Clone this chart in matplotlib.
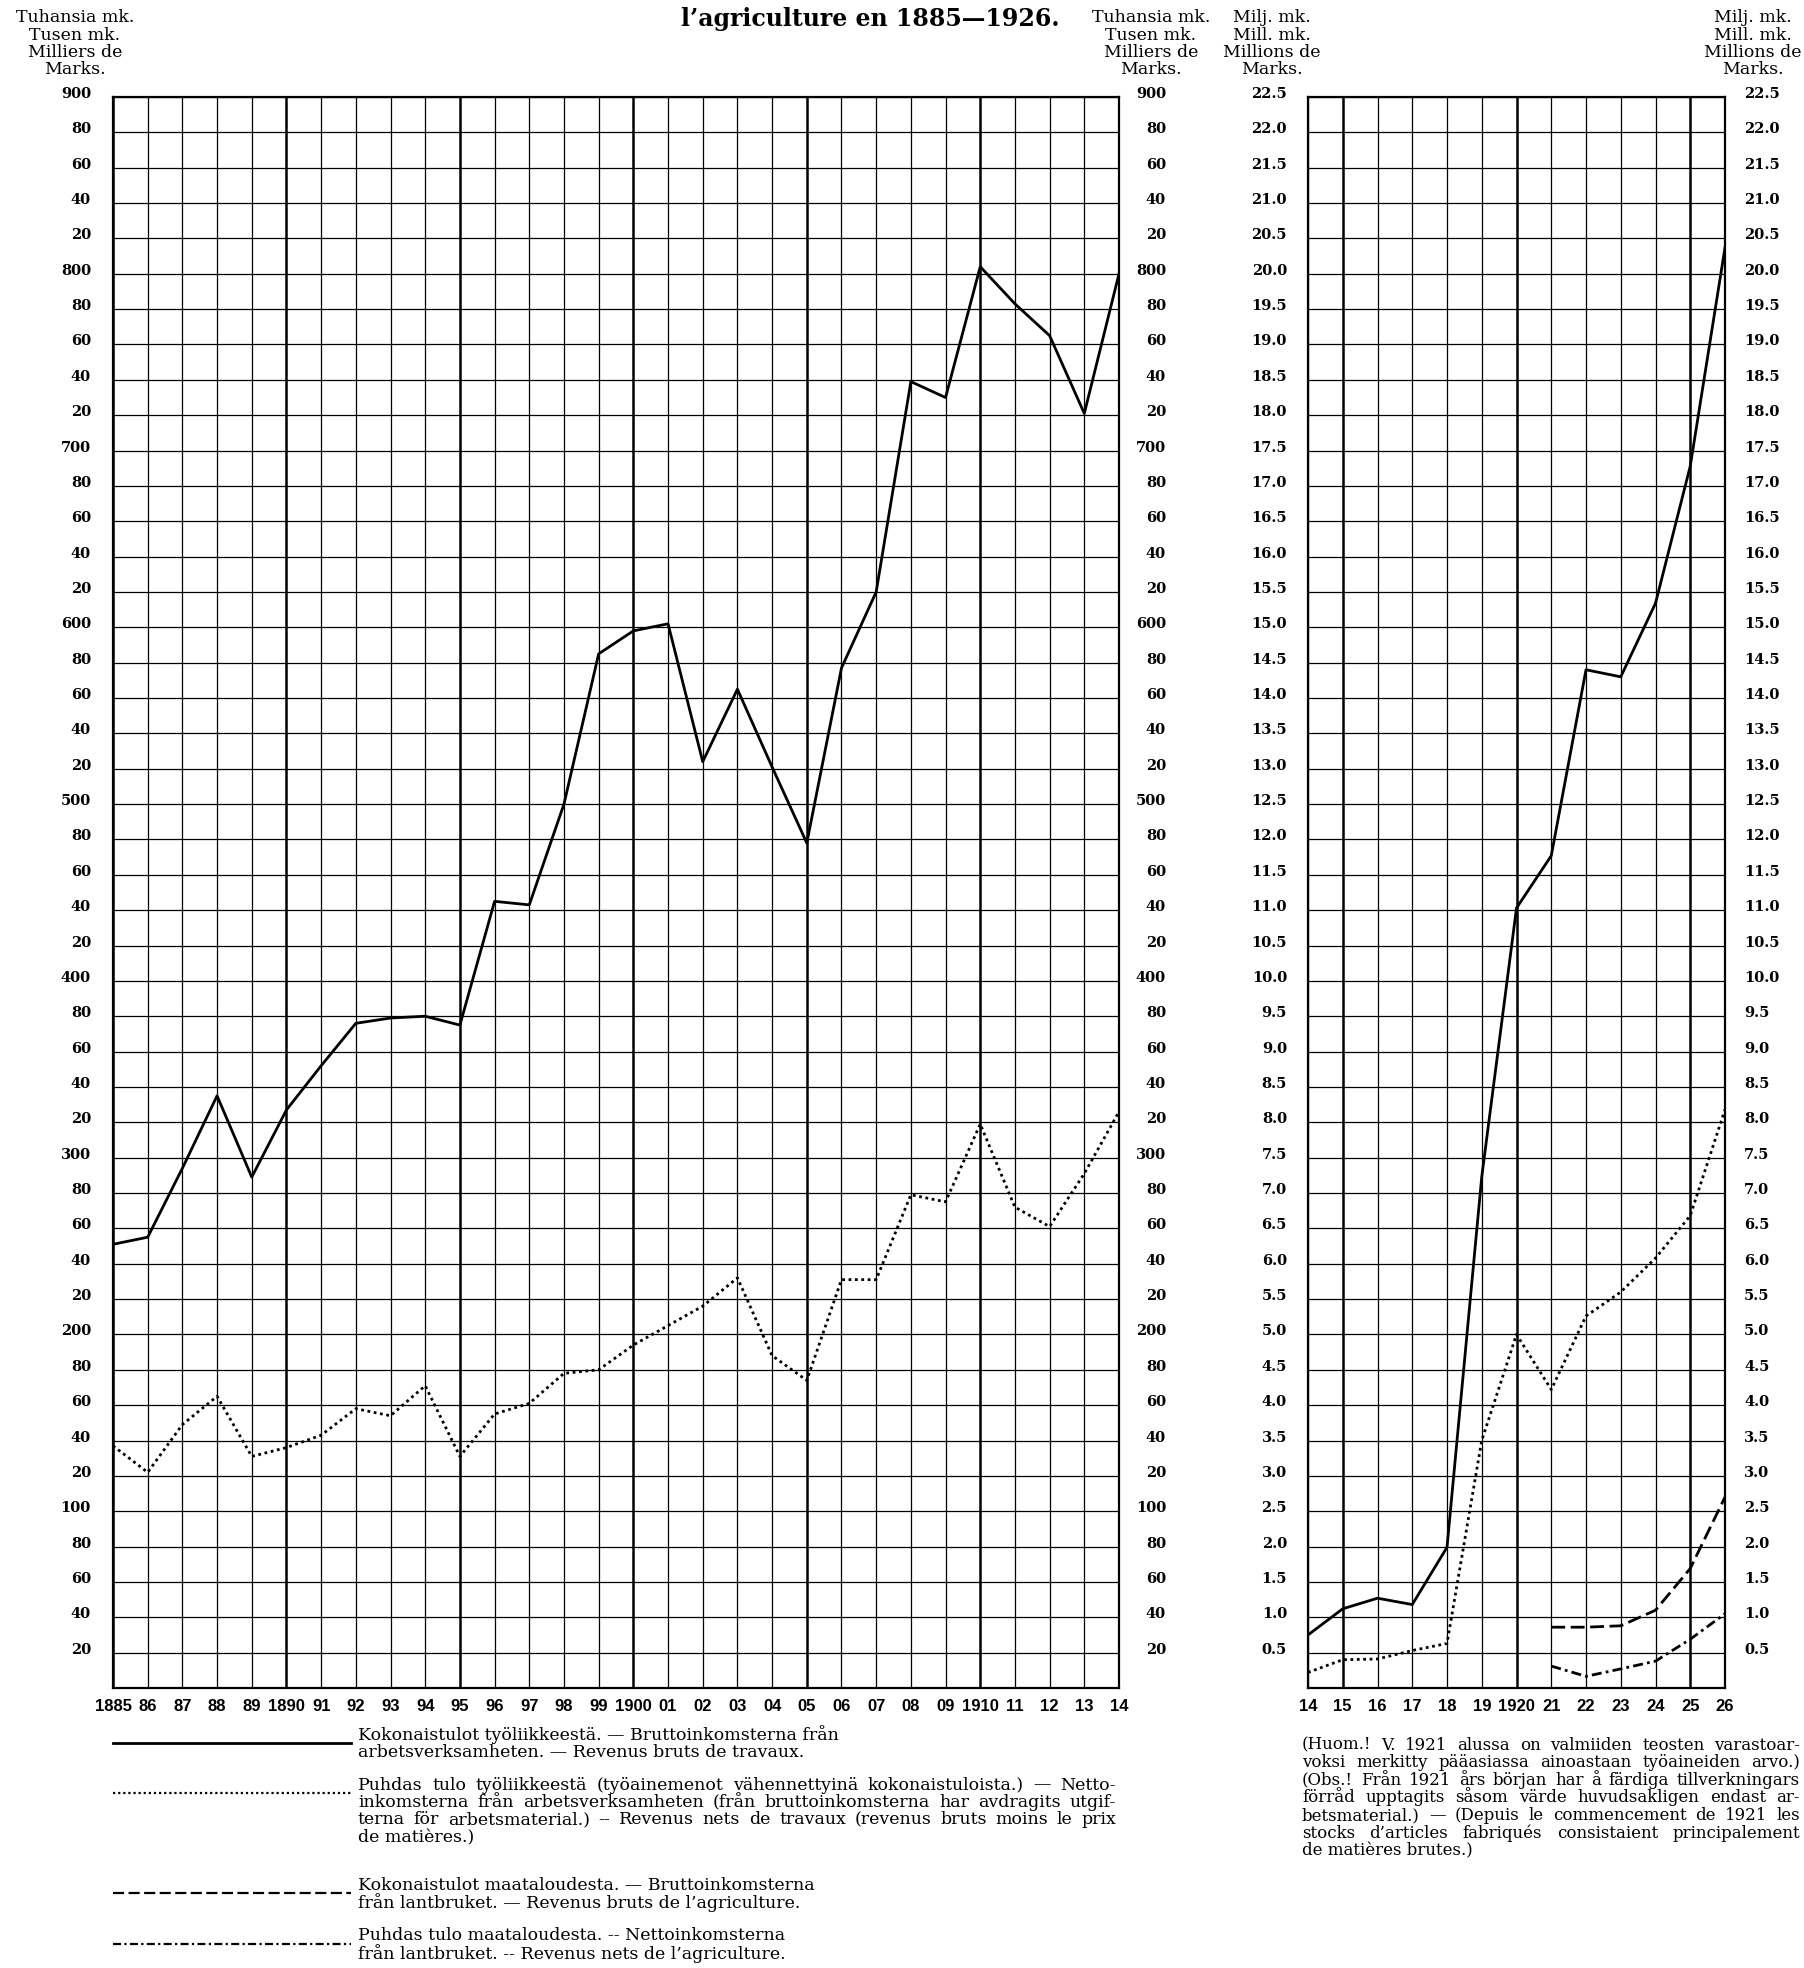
import matplotlib
matplotlib.use("Agg")
import matplotlib.pyplot as plt
from matplotlib.transforms import blended_transform_factory, offset_copy

plt.rcParams['font.family'] = ['DejaVu Serif']

# --- data (thousands of marks 1885-1914, millions of marks 1914-1926) ---
years_early = list(range(1885, 1915))
gross_work_early = [251, 255, 294, 335, 289, 327, 352, 376, 379, 380,
                    375, 445, 443, 500, 585, 598, 602, 524, 565, 521,
                    478, 577, 620, 739, 730, 804, 783, 765, 721, 800]
net_work_early = [137, 122, 149, 165, 131, 136, 143, 158, 154, 171,
                  131, 155, 161, 178, 180, 194, 205, 216, 232, 188,
                  174, 231, 231, 279, 275, 319, 272, 261, 291, 326]

years_late = list(range(1914, 1927))
gross_work_late = [0.75, 1.12, 1.27, 1.18, 1.99, 7.23, 11.03, 11.77,
                   14.4, 14.3, 15.34, 17.28, 20.37]
net_work_late = [0.22, 0.40, 0.41, 0.53, 0.63, 3.5, 5.0, 4.22,
                 5.26, 5.6, 6.08, 6.68, 8.18]

years_agri = list(range(1921, 1927))
gross_agri = [0.86, 0.86, 0.88, 1.1, 1.69, 2.7]
net_agri = [0.31, 0.165, 0.27, 0.38, 0.69, 1.05]

early_year_labels = ["1885", "86", "87", "88", "89", "1890", "91", "92", "93", "94",
                     "95", "96", "97", "98", "99", "1900", "01", "02", "03", "04",
                     "05", "06", "07", "08", "09", "1910", "11", "12", "13", "14"]
late_year_labels = ["14", "15", "16", "17", "18", "19", "1920", "21", "22", "23",
                    "24", "25", "26"]

left_ticks = list(range(20, 901, 20))
left_tick_labels = [str(v) if v % 100 == 0 else str(v % 100) for v in left_ticks]
right_ticks = [0.5 * i for i in range(1, 46)]
right_tick_labels = [f"{v:.1f}" for v in right_ticks]

W, H = 1804, 1968
fig = plt.figure(figsize=(W / 100, H / 100), dpi=100)


def px_axes(x0, y0, x1, y1):
    return fig.add_axes([x0 / W, 1 - y1 / H, (x1 - x0) / W, (y1 - y0) / H])


ax1 = px_axes(113, 97, 1119, 1688)
ax2 = px_axes(1308, 97, 1725, 1688)

lw_data = 2.0
dotted = (0, (1.0, 1.3))
dashed = (0, (5.0, 2.0))
dashdot = (0, (3.6, 1.5, 1.0, 1.5))


def setup(ax, years, ticks, labels, ymax):
    ax.set_xlim(years[0], years[-1])
    ax.set_ylim(0, ymax)
    for y in years:
        ax.axvline(y, color='black', lw=1.8 if y % 5 == 0 else 0.9, zorder=1)
    for v in ticks:
        ax.axhline(v, color='black', lw=0.9, zorder=1)
    ax.set_xticks(years)
    ax.set_xticklabels(labels, fontfamily='Liberation Sans', fontweight='bold', fontsize=12)
    ax.tick_params(axis='x', length=0, pad=8)
    ax.set_yticks([])
    for s in ax.spines.values():
        s.set_linewidth(1.6)


setup(ax1, years_early, left_ticks, early_year_labels, 900)
setup(ax2, years_late, right_ticks, late_year_labels, 22.5)

ax1.plot(years_early, gross_work_early, color='black', lw=lw_data, zorder=3)
ax1.plot(years_early, net_work_early, color='black', lw=lw_data, ls=dotted,
         dash_capstyle='butt', zorder=3)
ax2.plot(years_late, gross_work_late, color='black', lw=lw_data, zorder=3)
ax2.plot(years_late, net_work_late, color='black', lw=lw_data, ls=dotted,
         dash_capstyle='butt', zorder=3)
ax2.plot(years_agri, gross_agri, color='black', lw=lw_data, ls=dashed, zorder=3)
ax2.plot(years_agri, net_agri, color='black', lw=lw_data, ls=dashdot, zorder=3)


# y labels on both sides of each panel
def ylabels(ax, ticks, labels, side, dx, ha):
    base = blended_transform_factory(ax.transAxes, ax.transData)
    tr = offset_copy(base, fig=fig, x=dx, y=3, units='dots')
    for v, lab in zip(ticks, labels):
        ax.text(side, v, lab, transform=tr, ha=ha, va='center', fontsize=10.5,
                fontweight='bold', clip_on=False)


ylabels(ax1, left_ticks, left_tick_labels, 0, -22, 'right')
ylabels(ax1, left_ticks, left_tick_labels, 1, 47, 'right')
ylabels(ax2, right_ticks, right_tick_labels, 0, -21, 'right')
ylabels(ax2, right_ticks, right_tick_labels, 1, 19, 'left')

# overlay in pixel coordinates for all the surrounding text
ov = fig.add_axes([0, 0, 1, 1])
ov.set_xlim(0, W)
ov.set_ylim(H, 0)
ov.axis('off')
renderer = fig.canvas.get_renderer()

ov.text(870, 19, "l’agriculture en 1885—1926.", ha='center', va='center',
        fontsize=17, fontweight='bold')

hdr_thousand = ["Tuhansia mk.", "Tusen mk.", "Milliers de", "Marks."]
hdr_million = ["Milj. mk.", "Mill. mk.", "Millions de", "Marks."]
for cx, hdr in [(75, hdr_thousand), (1151, hdr_thousand),
                (1272, hdr_million), (1753, hdr_million)]:
    for i, line in enumerate(hdr):
        ov.text(cx, 18 + i * 17.2, line, ha='center', va='center', fontsize=12.5)


def justified(x0, x1, y, line, size):
    words = line.split()
    texts = [ov.text(0, y, w, ha='left', va='center', fontsize=size) for w in words]
    widths = [t.get_window_extent(renderer).width for t in texts]
    room = x1 - x0 - sum(widths)
    if room < 4 * (len(words) - 1):
        # too long for the column: shrink this line a little
        k = (x1 - x0 - 4 * (len(words) - 1)) / sum(widths)
        for t in texts:
            t.set_fontsize(size * k)
        widths = [w * k for w in widths]
        room = x1 - x0 - sum(widths)
    gap = room / (len(words) - 1)
    x = x0
    for t, w in zip(texts, widths):
        t.set_x(x)
        x += w + gap


def block(x0, x1, y0, lines, size, justify, step=17.5):
    for i, line in enumerate(lines):
        y = y0 + i * step
        if justify and i < len(lines) - 1:
            justified(x0, x1, y, line, size)
        else:
            ov.text(x0, y, line, ha='left', va='center', fontsize=size)


legend = [
    ('-', 1735, False,
     ["Kokonaistulot työliikkeestä. — Bruttoinkomsterna från",
      "arbetsverksamheten. — Revenus bruts de travaux."]),
    (dotted, 1785, True,
     ["Puhdas tulo työliikkeestä (työainemenot vähennettyinä kokonaistuloista.) — Netto-",
      "inkomsterna från arbetsverksamheten (från bruttoinkomsterna har avdragits utgif-",
      "terna för arbetsmaterial.) -- Revenus nets de travaux (revenus bruts moins le prix",
      "de matières.)"]),
    (dashed, 1885, False,
     ["Kokonaistulot maataloudesta. — Bruttoinkomsterna",
      "från lantbruket. — Revenus bruts de l’agriculture."]),
    (dashdot, 1936, False,
     ["Puhdas tulo maataloudesta. -- Nettoinkomsterna",
      "från lantbruket. -- Revenus nets de l’agriculture."]),
]
for style, y0, just, lines in legend:
    ov.plot([113, 351], [y0 + 8, y0 + 8], color='black',
            lw=2.0 if style == '-' else 1.6, ls=style, dash_capstyle='butt')
    block(358, 1116, y0, lines, 12.5, just)

note = ["(Huom.!  V. 1921 alussa on valmiiden teosten varastoar-",
        "voksi merkitty pääasiassa ainoastaan työaineiden arvo.)",
        "(Obs.!  Från 1921 års början har å färdiga tillverkningars",
        "förråd upptagits såsom värde huvudsakligen endast ar-",
        "betsmaterial.) — (Depuis le commencement de 1921 les",
        "stocks d’articles fabriqués consistaient principalement",
        "de matières brutes.)"]
block(1302, 1800, 1745, note, 12, True, step=17.6)

fig.savefig("out.png", dpi=100)
